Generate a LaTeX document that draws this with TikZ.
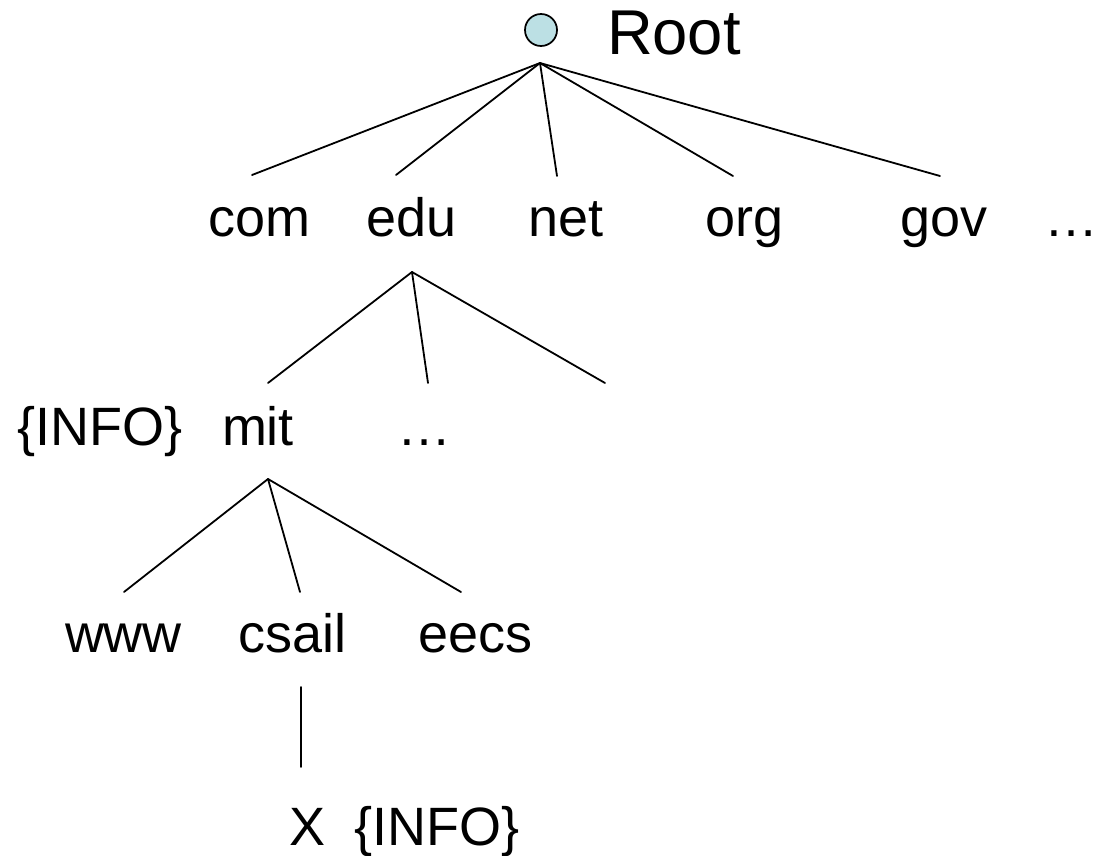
\documentclass[tikz,border=0pt]{standalone}
\usepackage{fontspec}
\setmainfont{Liberation Sans}
\definecolor{rootfill}{HTML}{BCE0E4}
\begin{document}
\begin{tikzpicture}[x=0.75pt,y=-0.75pt,
  lbl/.style={anchor=base west,inner sep=0pt,outer sep=0pt,font=\fontsize{40.5}{48}\selectfont},
  edge/.style={line width=1.35pt,black,line cap=round}]
\useasboundingbox (0,0) rectangle (1107,856);
% root
\node (rootdot) [circle,draw,fill=rootfill,inner sep=0pt,minimum size=24pt,line width=1.3pt] at (541,30) {};
\node[lbl,font=\fontsize{47.5}{56}\selectfont] (root) at (607,55) {Root};
% top level
\node[lbl] (com) at (208,236) {com};
\node[lbl] (edu) at (366,236) {edu};
\node[lbl] (net) at (528,236) {net};
\node[lbl] (org) at (705,236) {org};
\node[lbl] (gov) at (900,236) {gov};
\node[lbl] (tdots) at (1044,236) {…};
% second level
\node[lbl] (info1) at (17,445) {\{INFO\}};
\node[lbl] (mit) at (222,445) {mit};
\node[lbl] (edots) at (397,445) {…};
% third level
\node[lbl] (www) at (65,652) {www};
\node[lbl] (csail) at (238,652) {csail};
\node[lbl] (eecs) at (418,652) {eecs};
% fourth level
\node[lbl] (x) at (289,845) {X};
\node[lbl] (info2) at (354,845) {\{INFO\}};
% connector points
\coordinate (rA) at (540,63);
\coordinate (rcom) at (252,175);
\coordinate (redu) at (396,175);
\coordinate (rnet) at (557,176);
\coordinate (rorg) at (733,176);
\coordinate (rgov) at (940,176);
\coordinate (eA) at (412,272);
\coordinate (emit) at (268,383);
\coordinate (emid) at (428,383);
\coordinate (eright) at (605,383);
\coordinate (mA) at (268,479);
\coordinate (mwww) at (124,592);
\coordinate (mcsail) at (300,592);
\coordinate (meecs) at (461,592);
\coordinate (cA) at (301,687);
\coordinate (cX) at (301,767);
% connectors
\draw[edge] (rA) -- (rcom);
\draw[edge] (rA) -- (redu);
\draw[edge] (rA) -- (rnet);
\draw[edge] (rA) -- (rorg);
\draw[edge] (rA) -- (rgov);
\draw[edge] (eA) -- (emit);
\draw[edge] (eA) -- (emid);
\draw[edge] (eA) -- (eright);
\draw[edge] (mA) -- (mwww);
\draw[edge] (mA) -- (mcsail);
\draw[edge] (mA) -- (meecs);
\draw[edge] (cA) -- (cX);
\end{tikzpicture}
\end{document}
